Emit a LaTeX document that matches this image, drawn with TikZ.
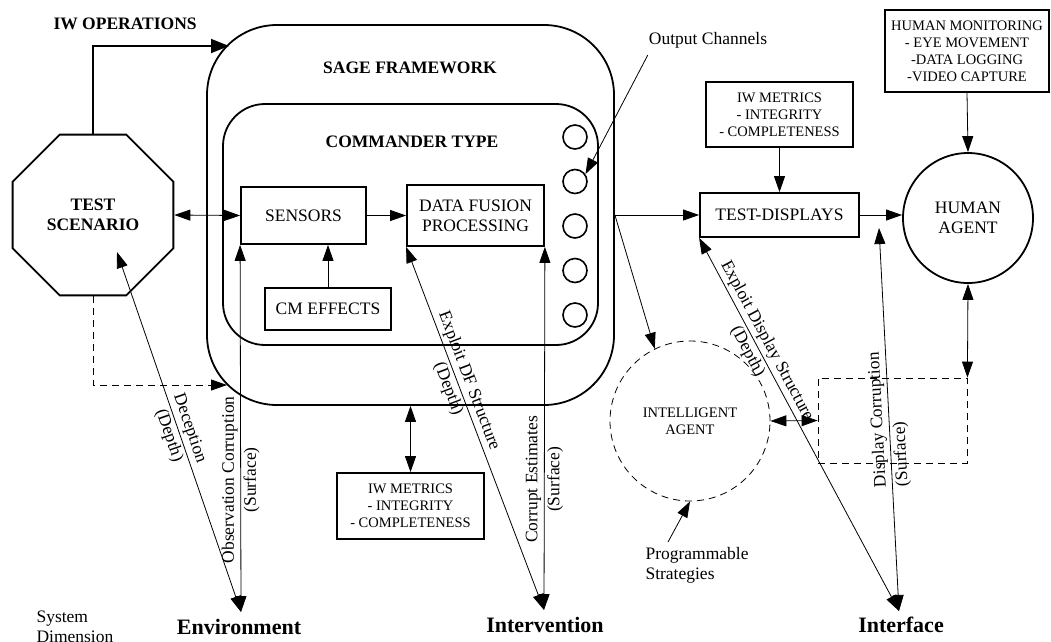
\documentclass[tikz,border=0pt]{standalone}
\usepackage{fontspec}
\setmainfont{Liberation Serif}
\usetikzlibrary{arrows.meta, shapes.geometric}

\begin{document}
\begin{tikzpicture}[
  x=1pt, y=-1pt,
  >={Triangle[length=16pt,width=11pt]},
  box/.style={draw, line width=1.8pt, inner sep=0pt, align=center, font=\fontsize{17.5}{20}\selectfont},
  smallbox/.style={draw, line width=1.8pt, inner sep=0pt, align=center, font=\fontsize{14.5}{17}\selectfont},
  frame/.style={draw, line width=1.8pt, inner sep=0pt},
  link/.style={line width=0.8pt},
  dashline/.style={dash pattern=on 7pt off 5pt},
  chan/.style={draw, circle, line width=1.6pt, minimum size=24pt, inner sep=0pt},
  lbl/.style={font=\fontsize{17.5}{22}\selectfont, align=center, inner sep=1pt},
  heading/.style={font=\bfseries\fontsize{17.5}{20}\selectfont},
  dim/.style={font=\bfseries\fontsize{22}{24}\selectfont},
]
\useasboundingbox (0,0) rectangle (1051,641);

% --- SAGE framework ---
\node[frame, rounded corners=70pt, minimum width=407pt, minimum height=380pt] (sage) at (410.5,215) {};
\node[frame, rounded corners=42pt, minimum width=375pt, minimum height=241pt] (cmdr) at (410.5,224.5) {};
\node[heading] (sagelbl) at (410,68) {SAGE FRAMEWORK};
\node[heading] (cmdrlbl) at (412,142) {COMMANDER TYPE};

\node[box, minimum width=125pt, minimum height=57pt] (sensors) at (303.5,215.5) {SENSORS};
\node[box, minimum width=137pt, minimum height=61pt] (dfp) at (475.5,215.5) {DATA FUSION\\PROCESSING};
\node[box, minimum width=126pt, minimum height=42pt] (cm) at (328,309) {CM EFFECTS};

% --- Output channels ---
\foreach \i in {1,...,5}
  \node[chan] (c\i) at (575,{137+44.5*(\i-1)}) {};
\node[lbl] (outlabel) at (708,40) {Output Channels};

% --- Test scenario ---
\node[draw, regular polygon, regular polygon sides=8, minimum size=174pt, line width=1.8pt,
  inner sep=0pt, align=center, font=\bfseries\fontsize{17.5}{20}\selectfont] (scenario) at (93,215) {TEST\\SCENARIO};
\node[heading, anchor=west] (iwops) at (50,24) {IW OPERATIONS};

% --- Displays and agents ---
\node[box, minimum width=159pt, minimum height=44pt] (displays) at (779.5,215) {TEST-DISPLAYS};
\node[smallbox, minimum width=147pt, minimum height=65pt] (metricsA) at (779.5,114.5) {IW METRICS\\- INTEGRITY\\- COMPLETENESS};
\node[smallbox, minimum width=147pt, minimum height=66pt] (metricsB) at (410.5,506) {IW METRICS\\- INTEGRITY\\- COMPLETENESS};
\node[smallbox, minimum width=164pt, minimum height=82pt] (monitor) at (967,51) {HUMAN MONITORING\\- EYE MOVEMENT\\-DATA LOGGING\\-VIDEO CAPTURE};
\node[draw, circle, line width=1.8pt, minimum size=130pt, inner sep=0pt, align=center,
  font=\fontsize{17.5}{20}\selectfont] (human) at (968,218) {HUMAN\\AGENT};
\node[draw, circle, link, dashline, minimum size=160pt, inner sep=0pt, align=center,
  font=\fontsize{14.5}{17}\selectfont] (agent) at (690,421) {INTELLIGENT\\AGENT};
\node[draw, link, dashline, minimum width=149pt, minimum height=85pt] (corrupt) at (892.5,420.5) {};
\node[anchor=west, align=left, font=\fontsize{17.5}{20}\selectfont] (prog) at (642,565) {Programmable\\Strategies};

% --- System dimensions ---
\node[dim] (env) at (239,627) {Environment};
\node[dim] (interv) at (545,625) {Intervention};
\node[dim] (iface) at (901,625) {Interface};
\node[anchor=west, align=left, font=\fontsize{17.5}{20}\selectfont] (sysdim) at (33,627) {System\\Dimension};

\coordinate (iwin) at (229,46);
\coordinate (dashin) at (227,385);
\coordinate (decep) at (117,252);
\coordinate (envtip) at (241,612);
\coordinate (inttip) at (544,610);
\coordinate (iftip) at (899,611);
\coordinate (dctop) at (879,228);
\coordinate (progtip) at (668,542);

% --- Connectors ---
\draw[-{Triangle[length=18pt,width=14pt]}, line width=1.8pt] (scenario.north) |- (iwin);
\draw[<->, link] (scenario.east) -- (sensors.west);
\draw[->, link] (sensors.east) -- (dfp.west);
\draw[->, link] (cm.north) -- (cm.north |- sensors.south);
\draw[->, link, dashline] (scenario.south) |- (dashin);
\draw[<->, link] (sage.south) -- (metricsB.north);
\draw[->, link] ([yshift=-6pt]outlabel.south west) -- (c2.35);
\draw[->, link] (sage.east) -- (displays.west);
\draw[->, link] (sage.east) -- (agent.116);
\draw[->, link] (metricsA.south) -- (displays.north);
\draw[->, link] (displays.east) -- (displays.east -| human.west);
\draw[->, link] (monitor.south) -- (human.north);
\draw[<->, link] (human.south) -- (corrupt.north east);
\draw[<->, link] (agent.east) -- (corrupt.west);
\draw[->, link] (progtip) -- (agent.south);

% --- Attack dimensions ---
\draw[<->, link] (decep) -- node[lbl, sloped] {Deception\\(Depth)} (envtip);
\draw[<->, link] (sensors.south west) -- node[lbl, pos=0.64, rotate=90] {Observation Corruption\\(Surface)} (envtip);
\draw[<->, link] (dfp.south west) -- node[lbl, sloped, pos=0.38] {Exploit DF Structure\\(Depth)} (inttip);
\draw[<->, link] (dfp.south east) -- node[lbl, pos=0.64, rotate=90] {Corrupt Estimates\\(Surface)} (inttip);
\draw[<->, link] (displays.south west) -- node[lbl, sloped, pos=0.29] {Exploit Display Structure\\(Depth)} (iftip);
\draw[<->, link] (dctop) -- node[lbl, pos=0.68, rotate=93, anchor=west, align=left] {Display Corruption\\(Surface)} (iftip);

\end{tikzpicture}
\end{document}
